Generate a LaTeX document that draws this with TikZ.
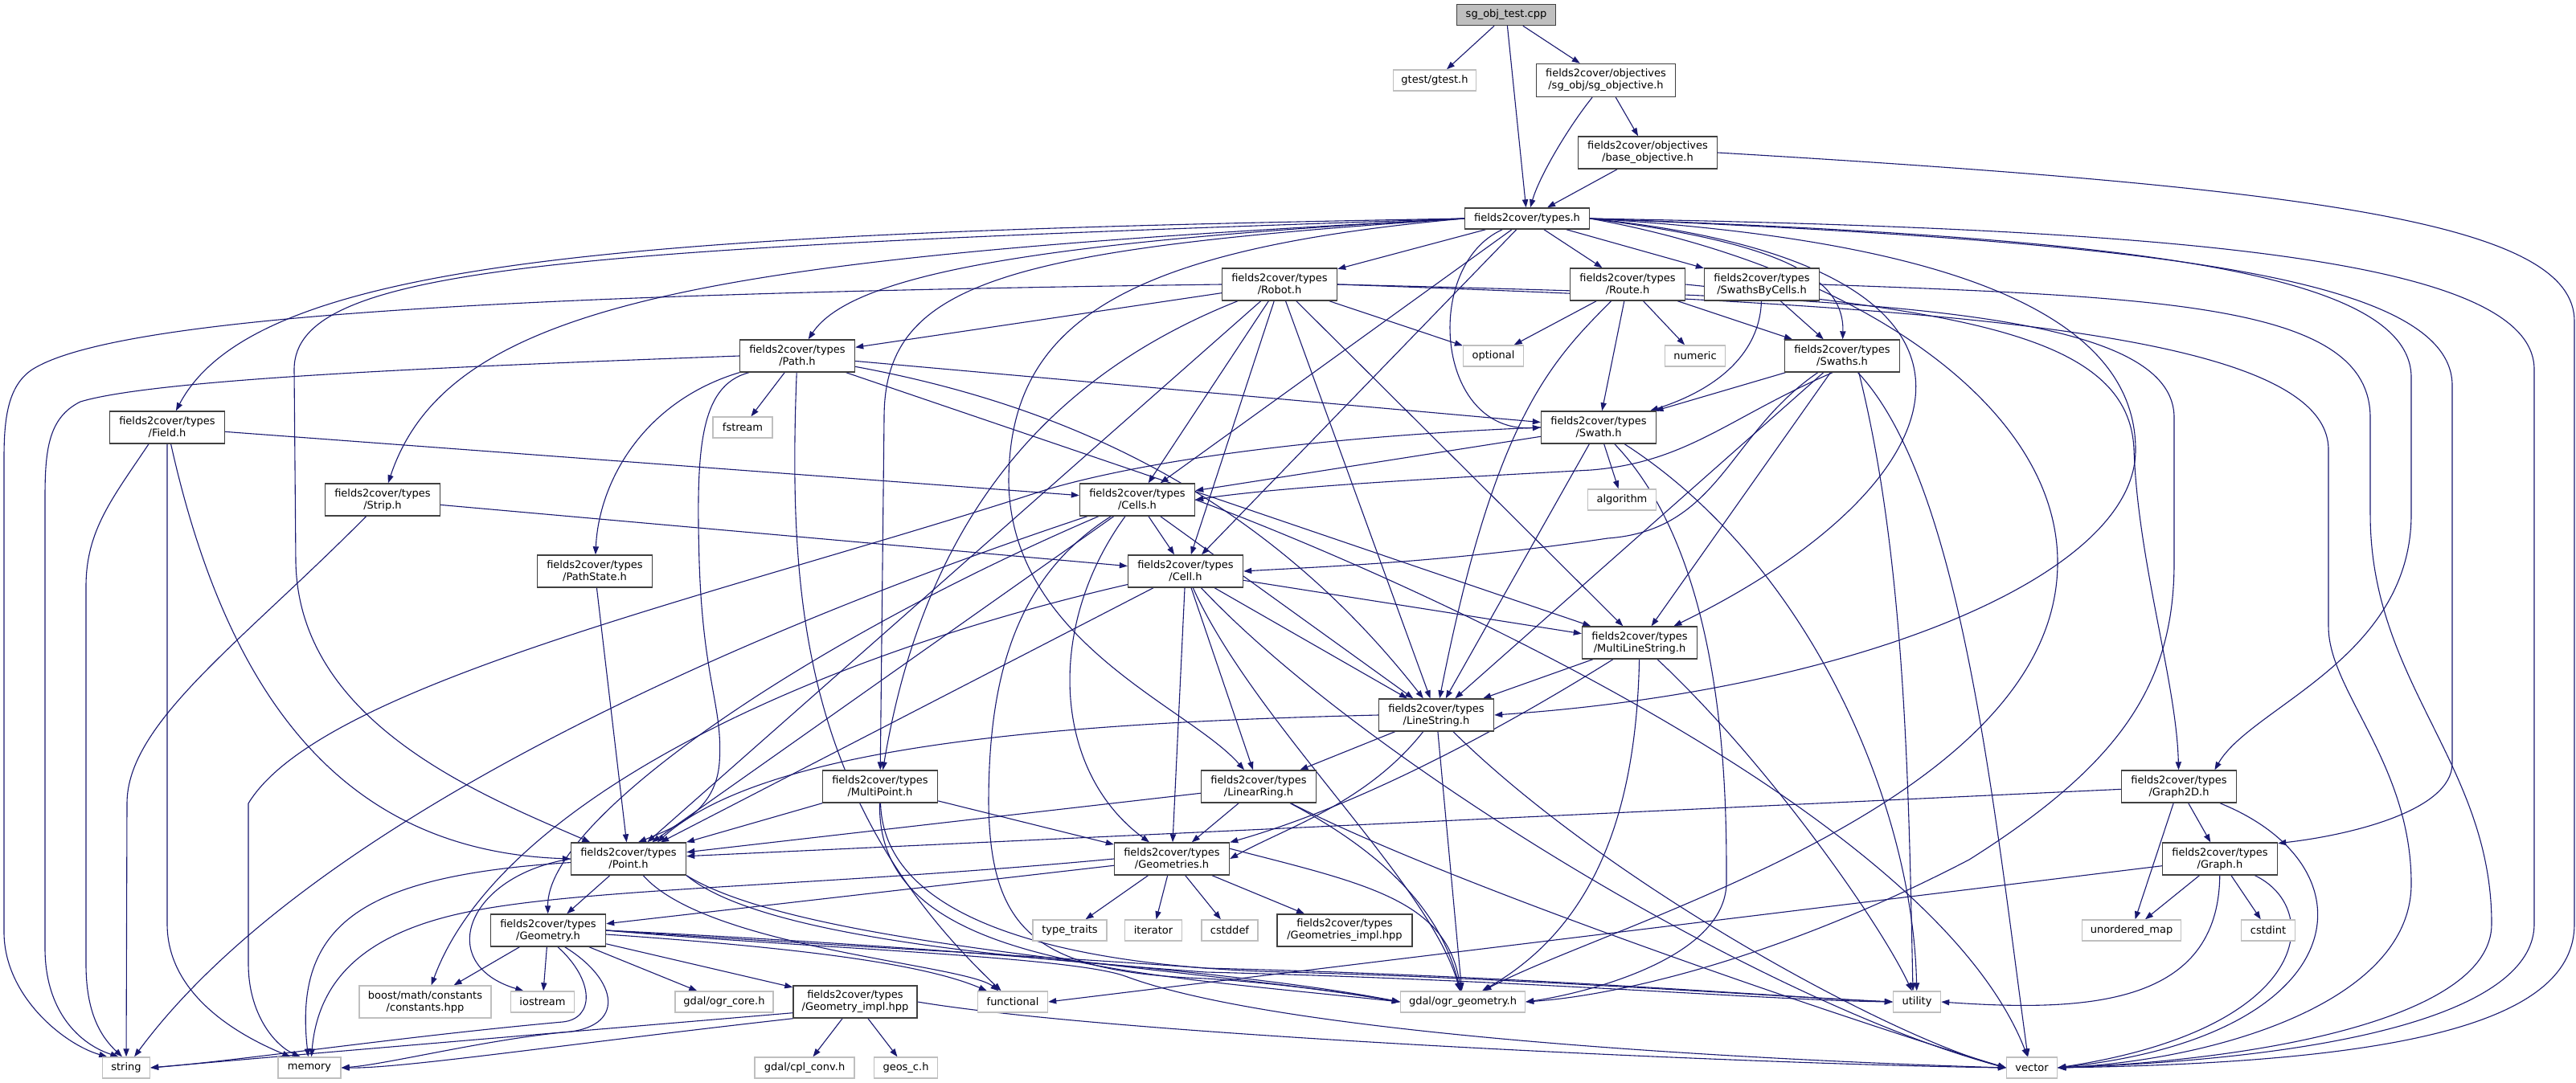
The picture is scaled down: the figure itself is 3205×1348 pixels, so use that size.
\documentclass[tikz,border=0pt]{standalone}
\usepackage{fontspec}
\setmainfont{DejaVu Sans}
\usetikzlibrary{arrows.meta,backgrounds}
\definecolor{edgec}{HTML}{191970}
\definecolor{sysc}{HTML}{BFBFBF}
\definecolor{projc}{HTML}{404040}
\begin{document}
\begin{tikzpicture}[x=0.5pt,y=-0.5pt,
  nd/.style={rectangle, align=center, inner sep=0pt, fill=white, line width=0.7pt, font=\fontsize{6.5}{7.5}\selectfont},
  proj/.style={nd, draw=projc},
  sys/.style={nd, draw=sysc},
  two/.style={minimum width=71.5pt, minimum height=20pt},
  one/.style={minimum height=13pt},
  e/.style={draw=edgec, line width=0.55pt, -{Triangle[length=5pt,width=3.6pt]}}
]
\useasboundingbox (0,0) rectangle (3205,1348);

\node[proj, fill=gray!50, one, minimum width=61.5pt] (sgtest) at (1874,18.5) {sg\_obj\_test.cpp};
\node[sys, one, minimum width=51.5pt] (gtest) at (1785,100) {gtest/gtest.h};
\node[proj, minimum width=86.5pt, minimum height=20.5pt] (sgobj) at (1998,100) {fields2cover/objectives\\/sg\_obj/sg\_objective.h};
\node[proj, minimum width=86.5pt, minimum height=20pt] (baseobj) at (2050,190) {fields2cover/objectives\\/base\_objective.h};
\node[proj, one, minimum width=77.5pt] (types) at (1900,272) {fields2cover/types.h};
\node[proj, two] (Robot) at (1592,354) {fields2cover/types\\/Robot.h};
\node[proj, two] (Route) at (2025,354) {fields2cover/types\\/Route.h};
\node[proj, two] (SBC) at (2192,354) {fields2cover/types\\/SwathsByCells.h};
\node[sys, one, minimum width=37.5pt] (optional) at (1858,443) {optional};
\node[sys, one, minimum width=37.5pt] (numeric) at (2109,443) {numeric};
\node[proj, two] (Path) at (992,443) {fields2cover/types\\/Path.h};
\node[proj, two] (Swaths) at (2292,443) {fields2cover/types\\/Swaths.h};
\node[sys, one, minimum width=37pt] (fstream) at (924,532) {fstream};
\node[proj, two] (Field) at (208,532) {fields2cover/types\\/Field.h};
\node[proj, two] (Swath) at (1989,532) {fields2cover/types\\/Swath.h};
\node[proj, two] (Strip) at (476,622) {fields2cover/types\\/Strip.h};
\node[proj, two] (Cells) at (1415,622) {fields2cover/types\\/Cells.h};
\node[sys, one, minimum width=42.5pt] (algorithm) at (2018,622) {algorithm};
\node[proj, two] (PathState) at (740,711) {fields2cover/types\\/PathState.h};
\node[proj, two] (Cell) at (1475,711) {fields2cover/types\\/Cell.h};
\node[proj, two] (MLS) at (2040,800) {fields2cover/types\\/MultiLineString.h};
\node[proj, two] (LineString) at (1787,890) {fields2cover/types\\/LineString.h};
\node[proj, two] (MultiPoint) at (1095,979) {fields2cover/types\\/MultiPoint.h};
\node[proj, two] (LinearRing) at (1566,979) {fields2cover/types\\/LinearRing.h};
\node[proj, two] (Graph2D) at (2711,979) {fields2cover/types\\/Graph2D.h};
\node[proj, two] (Point) at (782,1069) {fields2cover/types\\/Point.h};
\node[proj, two] (Geometries) at (1458,1069) {fields2cover/types\\/Geometries.h};
\node[proj, two] (Graph) at (2762,1069) {fields2cover/types\\/Graph.h};
\node[proj, two] (Geometry) at (682,1158) {fields2cover/types\\/Geometry.h};
\node[sys, one, minimum width=46pt] (typetraits) at (1331,1158) {type\_traits};
\node[sys, one, minimum width=35.5pt] (iterator) at (1435,1158) {iterator};
\node[sys, one, minimum width=35pt] (cstddef) at (1530,1158) {cstddef};
\node[proj, minimum width=84pt, minimum height=20pt] (Gsimpl) at (1673,1158) {fields2cover/types\\/Geometries\_impl.hpp};
\node[sys, one, minimum width=61.5pt] (umap) at (2652,1158) {unordered\_map};
\node[sys, one, minimum width=33.5pt] (cstdint) at (2822,1158) {cstdint};
\node[sys, minimum width=82pt, minimum height=20pt] (boost) at (529,1247) {boost/math/constants\\/constants.hpp};
\node[sys, one, minimum width=39.5pt] (iostream) at (675,1247) {iostream};
\node[sys, one, minimum width=61pt] (ogrcore) at (901,1247) {gdal/ogr\_core.h};
\node[proj, minimum width=77pt, minimum height=20pt] (Gimpl) at (1064,1247) {fields2cover/types\\/Geometry\_impl.hpp};
\node[sys, one, minimum width=43.5pt] (functional) at (1260,1247) {functional};
\node[sys, one, minimum width=77.5pt] (ogrgeom) at (1820,1247) {gdal/ogr\_geometry.h};
\node[sys, one, minimum width=29.5pt] (utility) at (2385,1247) {utility};
\node[sys, one, minimum width=29.5pt] (string) at (157,1329) {string};
\node[sys, one, minimum width=39pt] (memory) at (385,1329) {memory};
\node[sys, one, minimum width=62pt] (cplconv) at (1001,1329) {gdal/cpl\_conv.h};
\node[sys, one, minimum width=39.5pt] (geos) at (1127,1329) {geos\_c.h};
\node[sys, one, minimum width=31.5pt] (vector) at (2528,1329) {vector};

\begin{pgfonlayer}{background}
% top
\draw[e] (sgtest) -- (gtest);
\draw[e] (sgtest) -- (types);
\draw[e] (sgtest) -- (sgobj);
\draw[e] (sgobj) .. controls (1950,160) and (1915,220) .. (types);
\draw[e] (sgobj) -- (baseobj);
\draw[e] (baseobj) -- (types);
\draw[e] (baseobj.east) .. controls (2900,235) and (3203,280) .. (3203,400) -- (3203,1150) .. controls (3203,1270) and (3000,1322) .. (vector.east);
% types
\draw[e] (types.west) .. controls (800,290) and (320,320) .. (Field);
\draw[e] (types.west) .. controls (900,320) and (560,370) .. (Strip);
\draw[e] (types.west) .. controls (700,310) and (366,330) .. (366,460) -- (368,700) .. controls (372,900) and (600,990) .. (Point);
\draw[e] (types.west) .. controls (1300,300) and (1060,340) .. (Path);
\draw[e] (types) -- (Robot);
\draw[e] (types) -- (Route);
\draw[e] (types) -- (SBC);
\draw[e] (types.east) .. controls (2200,300) and (2295,340) .. (Swaths);
\draw[e] (types) .. controls (1770,330) and (1785,540) .. (Swath.west);
\draw[e] (types) -- (Cells);
\draw[e] (types) -- (Cell);
\draw[e] (types.west) .. controls (1250,310) and (1100,350) .. (1100,520) -- (MultiPoint);
\draw[e] (types.west) .. controls (1400,310) and (1255,400) .. (1255,600) .. controls (1258,800) and (1480,880) .. (LinearRing);
\draw[e] (types.east) .. controls (2450,300) and (2657,400) .. (2657,560) .. controls (2657,720) and (2300,860) .. (LineString.east);
\draw[e] (types.east) .. controls (2550,330) and (2450,600) .. (MLS);
\draw[e] (types.east) .. controls (2600,295) and (3000,330) .. (3000,470) -- (3000,640) .. controls (3000,820) and (2800,880) .. (Graph2D.25);
\draw[e] (types.east) .. controls (2650,300) and (3051,340) .. (3051,480) -- (3051,950) .. controls (3051,1010) and (2920,1040) .. (Graph.15);
\draw[e] (types.east) .. controls (2700,285) and (3153,320) .. (3153,460) -- (3153,1150) .. controls (3153,1250) and (2950,1315) .. (vector.east);
\draw[e] (types.east) .. controls (2300,330) and (2560,500) .. (2560,700) .. controls (2560,1000) and (2000,1150) .. (ogrgeom);
% Robot
\draw[e] (Robot.west) .. controls (700,365) and (150,390) .. (40,460) .. controls (10,480) and (5,520) .. (5,570) -- (5,1160) .. controls (5,1240) and (80,1300) .. (string.150);
\draw[e] (Robot) -- (Path);
\draw[e] (Robot) -- (optional);
\draw[e] (Robot) -- (Point);
\draw[e] (Robot) -- (Cells);
\draw[e] (Robot) -- (Cell);
\draw[e] (Robot) -- (LineString);
\draw[e] (Robot) -- (MLS);
\draw[e] (Robot) .. controls (1300,470) and (1150,650) .. (MultiPoint);
\draw[e] (Robot.east) .. controls (2300,370) and (2705,380) .. (2705,520) -- (2705,700) .. controls (2705,850) and (2640,950) .. (2450,1070) .. controls (2200,1200) and (2000,1240) .. (ogrgeom.east);
\draw[e] (Robot.east) .. controls (2400,380) and (2897,410) .. (2897,560) -- (2897,780) .. controls (2897,860) and (3000,950) .. (3000,1100) .. controls (3000,1250) and (2750,1320) .. (vector.east);
% Route
\draw[e] (Route) -- (optional);
\draw[e] (Route) -- (numeric);
\draw[e] (Route) -- (Swaths);
\draw[e] (Route) -- (Swath);
\draw[e] (Route) .. controls (1930,450) and (1860,520) .. (LineString);
\draw[e] (Route.east) .. controls (2450,390) and (2650,420) .. (2655,560) .. controls (2660,700) and (2708,850) .. (Graph2D);
% SwathsByCells
\draw[e] (SBC) -- (Swaths);
\draw[e] (SBC) .. controls (2190,430) and (2150,480) .. (Swath);
\draw[e] (SBC.east) .. controls (2700,370) and (2949,380) .. (2949,520) -- (2949,640) .. controls (2949,850) and (3100,950) .. (3100,1150) .. controls (3100,1270) and (2800,1320) .. (vector.east);
% Path
\draw[e] (Path) -- (fstream);
\draw[e] (Path.south west) .. controls (800,500) and (745,600) .. (PathState);
\draw[e] (Path.west) .. controls (600,455) and (200,470) .. (100,500) .. controls (60,520) and (56,560) .. (56,620) -- (56,1180) .. controls (56,1260) and (100,1300) .. (string.125);
\draw[e] (Path.199) .. controls (870,480) and (866,560) .. (870,700) .. controls (875,850) and (900,880) .. (895,950) .. controls (890,1010) and (840,1030) .. (Point.60);
\draw[e] (Path) -- (Swath);
\draw[e] (Path) -- (MLS);
\draw[e] (Path) .. controls (1300,500) and (1560,600) .. (LineString);
\draw[e] (Path) .. controls (980,750) and (1000,1000) .. (functional);
% Field
\draw[e] (Field) -- (Cells);
\draw[e] (Field.222) .. controls (140,620) and (107,660) .. (107,730) -- (107,1200) .. controls (107,1260) and (125,1290) .. (string.110);
\draw[e] (Field.south) -- (208,1150) .. controls (208,1240) and (300,1290) .. (memory.150);
\draw[e] (Field) .. controls (290,900) and (450,1060) .. (Point.west);
% Strip
\draw[e] (Strip) -- (Cell);
\draw[e] (Strip) .. controls (300,800) and (158,900) .. (158,1000) -- (string);
% Swaths
\draw[e] (Swaths) -- (Swath);
\draw[e] (Swaths.240) .. controls (2150,520) and (2100,575) .. (1980,585) .. controls (1800,595) and (1600,605) .. (Cells.east);
\draw[e] (Swaths) .. controls (2150,540) and (2140,660) .. (2000,670) .. controls (1800,700) and (1650,705) .. (Cell.east);
\draw[e] (Swaths) -- (MLS);
\draw[e] (Swaths) -- (LineString);
\draw[e] (Swaths.315) .. controls (2372,700) and (2375,1000) .. (utility.110);
\draw[e] (Swaths) .. controls (2440,600) and (2480,1000) .. (vector.110);
% Swath
\draw[e] (Swath) -- (Cells);
\draw[e] (Swath) -- (algorithm);
\draw[e] (Swath) -- (LineString);
\draw[e] (Swath) .. controls (2150,700) and (2148,1000) .. (2148,1100) .. controls (2145,1200) and (1950,1240) .. (ogrgeom.east);
\draw[e] (Swath) .. controls (2250,700) and (2380,1000) .. (utility);
\draw[e] (Swath.west) .. controls (1600,545) and (1400,580) .. (1300,610) .. controls (900,740) and (400,850) .. (309,1000) -- (309,1200) .. controls (309,1260) and (340,1300) .. (memory.130);
% Cells
\draw[e] (Cells) -- (Cell);
\draw[e] (Cells) -- (LineString);
\draw[e] (Cells) -- (Point);
\draw[e] (Cells) .. controls (1000,800) and (680,1020) .. (Geometry);
\draw[e] (Cells) .. controls (1300,780) and (1310,960) .. (Geometries);
\draw[e] (Cells) .. controls (1260,720) and (1230,850) .. (1230,1000) .. controls (1232,1160) and (1290,1210) .. (1500,1218) .. controls (1600,1224) and (1700,1240) .. (ogrgeom.west);
\draw[e] (Cells.east) .. controls (1700,700) and (2400,1000) .. (vector);
\draw[e] (Cells) .. controls (1000,760) and (400,1000) .. (string);
% Cell
\draw[e] (Cell) -- (MLS);
\draw[e] (Cell) -- (LineString);
\draw[e] (Cell) -- (LinearRing);
\draw[e] (Cell) -- (Geometries);
\draw[e] (Cell) -- (Point);
\draw[e] (Cell) .. controls (1560,900) and (1780,1100) .. (ogrgeom);
\draw[e] (Cell) .. controls (1000,820) and (620,1000) .. (boost);
\draw[e] (Cell) .. controls (1700,950) and (2200,1250) .. (vector.west);
% PathState
\draw[e] (PathState) -- (Point);
% MultiLineString
\draw[e] (MLS) -- (LineString);
\draw[e] (MLS) .. controls (1880,900) and (1700,1000) .. (Geometries);
\draw[e] (MLS) .. controls (2036,1000) and (1990,1150) .. (ogrgeom);
\draw[e] (MLS) .. controls (2200,950) and (2340,1150) .. (utility);
% LineString
\draw[e] (LineString.west) .. controls (1300,900) and (950,930) .. (Point.30);
\draw[e] (LineString) -- (LinearRing);
\draw[e] (LineString) .. controls (1700,1000) and (1600,1030) .. (Geometries.east);
\draw[e] (LineString) -- (ogrgeom);
\draw[e] (LineString) .. controls (2000,1100) and (2350,1290) .. (vector.west);
% MultiPoint
\draw[e] (MultiPoint) -- (Point);
\draw[e] (MultiPoint) -- (Geometries);
\draw[e] (MultiPoint) .. controls (1090,1200) and (1400,1210) .. (ogrgeom.west);
\draw[e] (MultiPoint) .. controls (1100,1170) and (1400,1205) .. (1600,1210) .. controls (1900,1218) and (2200,1240) .. (utility.west);
% LinearRing
\draw[e] (LinearRing) -- (Point);
\draw[e] (LinearRing) -- (Geometries);
\draw[e] (LinearRing) .. controls (1700,1050) and (1790,1120) .. (ogrgeom);
\draw[e] (LinearRing) .. controls (1800,1100) and (2300,1270) .. (vector.west);
% Geometries
\draw[e] (Geometries) -- (Geometry);
\draw[e] (Geometries) -- (typetraits);
\draw[e] (Geometries) -- (iterator);
\draw[e] (Geometries) -- (cstddef);
\draw[e] (Geometries) -- (Gsimpl);
\draw[e] (Geometries.10) .. controls (1700,1100) and (1800,1120) .. (ogrgeom.100);
\draw[e] (Geometries.west) .. controls (1000,1105) and (700,1105) .. (560,1140) .. controls (440,1170) and (395,1230) .. (memory.80);
% Point
\draw[e] (Point) -- (Geometry);
\draw[e] (Point) .. controls (450,1090) and (365,1150) .. (memory);
\draw[e] (Point.west) .. controls (580,1090) and (540,1200) .. (iostream.150);
\draw[e] (Point.south east) .. controls (1000,1180) and (1500,1205) .. (ogrgeom.west);
\draw[e] (Point) .. controls (880,1180) and (1200,1200) .. (functional);
\draw[e] (Point.south east) .. controls (950,1170) and (1300,1195) .. (1500,1210) .. controls (1900,1220) and (2200,1245) .. (utility.west);
% Geometry
\draw[e] (Geometry) -- (boost);
\draw[e] (Geometry) -- (iostream);
\draw[e] (Geometry) -- (ogrcore);
\draw[e] (Geometry) -- (Gimpl);
\draw[e] (Geometry) .. controls (1000,1180) and (1150,1200) .. (functional);
\draw[e] (Geometry.east) .. controls (1000,1170) and (1500,1200) .. (ogrgeom.west);
\draw[e] (Geometry.east) .. controls (1000,1175) and (1300,1190) .. (1500,1205) .. controls (1900,1215) and (2200,1240) .. (utility.west);
\draw[e] (Geometry.east) .. controls (1000,1180) and (1330,1190) .. (1400,1215) .. controls (1600,1290) and (2200,1320) .. (vector.west);
\draw[e] (Geometry.300) .. controls (740,1220) and (740,1268) .. (700,1272) .. controls (500,1290) and (300,1320) .. (string.east);
\draw[e] (Geometry.315) .. controls (770,1220) and (780,1280) .. (700,1285) .. controls (600,1295) and (480,1325) .. (memory.east);
% Geometry_impl
\draw[e] (Gimpl) -- (cplconv);
\draw[e] (Gimpl) -- (geos);
\draw[e] (Gimpl.190) .. controls (700,1285) and (400,1310) .. (string.east);
\draw[e] (Gimpl.195) .. controls (700,1300) and (500,1330) .. (memory.east);
\draw[e] (Gimpl.east) .. controls (1400,1290) and (2200,1325) .. (vector.west);
% Graph2D
\draw[e] (Graph2D) -- (Point);
\draw[e] (Graph2D) -- (Graph);
\draw[e] (Graph2D) -- (umap);
\draw[e] (Graph2D) .. controls (2960,1080) and (2930,1290) .. (vector.east);
% Graph
\draw[e] (Graph) -- (umap);
\draw[e] (Graph) -- (cstdint);
\draw[e] (Graph) .. controls (2760,1250) and (2600,1260) .. (utility.east);
\draw[e] (Graph) .. controls (2890,1130) and (2880,1280) .. (vector.east);
\draw[e] (Graph) -- (functional.east);
\end{pgfonlayer}
\end{tikzpicture}
\end{document}
